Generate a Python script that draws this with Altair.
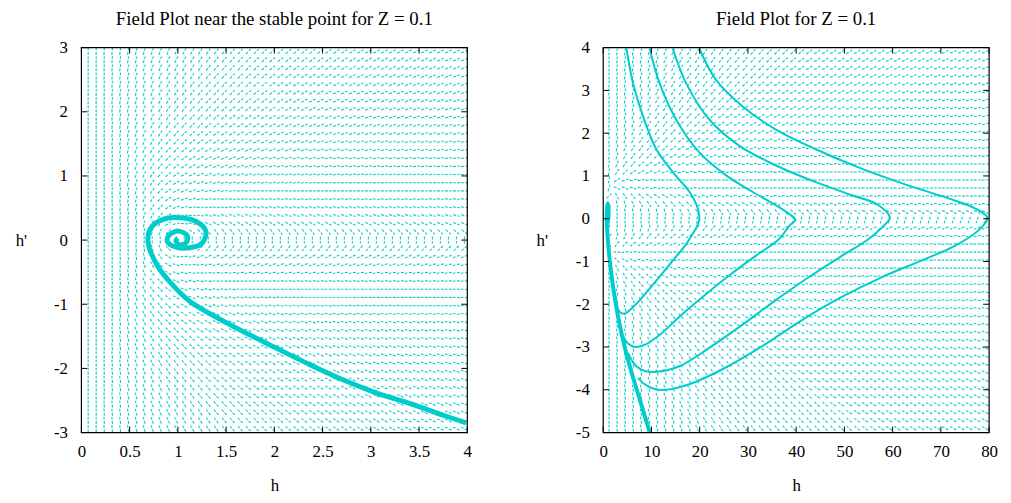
import numpy as np
import pandas as pd
import altair as alt

# ---------------- text ----------------
TITLE_LEFT = "Field Plot near the stable point for Z = 0.1"
TITLE_RIGHT = "Field Plot for Z = 0.1"
X_TITLE = "h"
Y_TITLE = "h'"

# ---------------- axes ----------------
left_h_domain = [0, 4]
left_v_domain = [-3, 3]
right_h_domain = [0, 80]
right_v_domain = [-5, 4]
left_x_ticks = [0, 0.5, 1, 1.5, 2, 2.5, 3, 3.5, 4]
left_y_ticks = [-3, -2, -1, 0, 1, 2, 3]
right_x_ticks = [0, 10, 20, 30, 40, 50, 60, 70, 80]
right_y_ticks = [-5, -4, -3, -2, -1, 0, 1, 2, 3, 4]

# ---------------- direction field (slope model) ----------------
Z = 0.1
FIELD_C = 0.7          # |h'| where the field turns horizontal at large h
left_grid_h = np.linspace(0.07, 3.97, 48)
left_grid_v = np.linspace(-2.94, 2.94, 47)
right_grid_h = np.linspace(1.2, 79.2, 48)
right_grid_v = np.linspace(-4.9, 3.9, 48)

# ---------------- trajectories ----------------
left_thick_h = [3.99, 3.75, 3.41, 3.07, 2.73, 2.38, 2.04, 1.53, 1.12, 0.91, 0.78, 0.69, 0.72,
                0.84, 1.01, 1.19, 1.29, 1.25, 1.12, 0.98, 0.89, 0.91, 1.01, 1.10, 1.08, 1.01, 0.98, 1.0]
left_thick_v = [-2.85, -2.73, -2.55, -2.39, -2.19, -1.95, -1.70, -1.31, -0.95, -0.64, -0.38, -0.02, 0.19,
                0.32, 0.35, 0.29, 0.14, -0.05, -0.12, -0.11, -0.02, 0.08, 0.14, 0.06, -0.05, -0.07, -0.01, 0.03]

right_thick_h = [9.62, 7.56, 5.50, 3.79, 2.48, 1.52, 0.90, 0.72, 0.76, 0.90, 1.05, 1.12, 1.00, 0.90, 0.95, 1.02]
right_thick_v = [-4.99, -4.22, -3.45, -2.68, -1.91, -1.14, -0.40, 0.00, 0.22, 0.35, 0.30, 0.10, -0.08, 0.00, 0.12, 0.05]

curve1_h = [4.81, 6.18, 8.24, 10.99, 14.42, 17.86, 19.57, 19.92, 19.23, 17.17, 14.42, 10.99, 7.55, 5.49, 4.46, 3.43, 2.61]
curve1_v = [3.98, 3.17, 2.40, 1.63, 1.09, 0.63, 0.25, -0.02, -0.22, -0.60, -0.98, -1.45, -1.91, -2.14, -2.22, -2.18, -1.98]

curve2_h = [9.62, 11.68, 15.11, 19.92, 25.41, 30.91, 35.71, 38.80, 39.84, 38.80, 36.40, 31.59, 26.10,
            20.60, 15.80, 11.68, 8.59, 6.52, 5.15, 4.12]
curve2_v = [3.98, 3.17, 2.32, 1.55, 1.02, 0.63, 0.32, 0.09, -0.03, -0.14, -0.48, -0.87, -1.33,
            -1.83, -2.29, -2.72, -2.95, -3.00, -2.92, -2.75]

curve3_h = [14.42, 17.17, 21.98, 28.16, 35.71, 43.96, 51.51, 57.01, 59.41, 58.38, 54.95, 49.45, 42.58,
            35.71, 28.85, 21.98, 15.80, 10.99, 8.59, 6.87, 5.84, 5.15]
curve3_v = [3.98, 3.17, 2.32, 1.71, 1.25, 0.86, 0.55, 0.32, 0.02, -0.14, -0.48, -0.87, -1.37,
            -1.91, -2.48, -3.02, -3.45, -3.58, -3.56, -3.45, -3.29, -3.14]

curve4_h = [19.92, 23.35, 28.85, 35.71, 43.96, 53.57, 63.19, 71.43, 76.92, 79.67, 77.61, 72.80, 65.93,
            57.69, 49.45, 41.21, 32.97, 24.73, 17.86, 13.05, 10.65, 8.59, 7.21]
curve4_v = [3.98, 3.25, 2.63, 2.09, 1.63, 1.17, 0.78, 0.48, 0.25, 0.02, -0.29, -0.64, -0.98,
            -1.37, -1.83, -2.37, -2.98, -3.52, -3.87, -4.00, -3.98, -3.87, -3.72]

# ---------------- style ----------------
CYAN = "#00CCCC"
FONT = "Liberation Serif"
PW, PH = 389, 388
SEG_LEN = 7.0
LABEL_SIZE = 17
TITLE_SIZE = 19


def field_frame(hs, vs, hdom, vdom):
    sx = PW / (hdom[1] - hdom[0])
    sy = PH / (vdom[1] - vdom[0])
    HH, VV = np.meshgrid(np.asarray(hs), np.asarray(vs))
    F = (VV ** 2 - FIELD_C * (1.0 - 1.0 / HH ** 2)) / HH
    ang = np.arctan2(F * sy, VV * sx)
    dh = 0.5 * SEG_LEN * np.cos(ang) / sx
    dv = 0.5 * SEG_LEN * np.sin(ang) / sy
    return pd.DataFrame({
        "h1": (HH - dh).ravel(), "h2": (HH + dh).ravel(),
        "v1": (VV - dv).ravel(), "v2": (VV + dv).ravel(),
    })


def traj_frame(pairs):
    rows = []
    for name, hs, vs in pairs:
        for i, (a, b) in enumerate(zip(hs, vs)):
            rows.append({"curve": name, "idx": i, "h": a, "v": b})
    return pd.DataFrame(rows)


def panel(title, hdom, vdom, xt, yt, field_df, thick_df, thin_df, thick_w, ytitle_x):
    xs = alt.Scale(domain=hdom, nice=False, zero=False)
    ys = alt.Scale(domain=vdom, nice=False, zero=False)
    common = dict(ticks=False, domain=False, grid=False, labelExpr="datum.value + ''",
                  labelFlush=False, labelFont=FONT, labelFontSize=LABEL_SIZE,
                  labelColor="black", titleFont=FONT, titleFontSize=LABEL_SIZE,
                  titleFontWeight="normal", titleColor="black")
    xaxis = alt.Axis(values=xt, title=X_TITLE, labelPadding=11, titlePadding=18, **common)
    yaxis = alt.Axis(values=yt, title=Y_TITLE, labelPadding=14, titleAngle=0,
                     titleX=ytitle_x, titleY=PH / 2, titleAlign="center",
                     titleBaseline="middle", **common)

    def X(f):
        return alt.X(f, scale=xs, axis=xaxis, title=X_TITLE)

    def Y(f):
        return alt.Y(f, scale=ys, axis=yaxis, title=Y_TITLE)

    field = alt.Chart(field_df).mark_rule(
        clip=True, color=CYAN, strokeWidth=1.1, strokeDash=[3, 1.5]
    ).encode(x=X("h1:Q"), y=Y("v1:Q"), x2="h2:Q", y2="v2:Q")
    layers = [field]
    if thin_df is not None:
        layers.append(alt.Chart(thin_df).mark_line(
            clip=True, color=CYAN, strokeWidth=2, interpolate="catmull-rom"
        ).encode(x=X("h:Q"), y=Y("v:Q"), detail="curve:N", order="idx:Q"))
    layers.append(alt.Chart(thick_df).mark_line(
        clip=True, color=CYAN, strokeWidth=thick_w, interpolate="catmull-rom"
    ).encode(x=X("h:Q"), y=Y("v:Q"), detail="curve:N", order="idx:Q"))

    xtdf = pd.DataFrame({"t": xt})
    ytdf = pd.DataFrame({"t": yt})
    tick = dict(color="black", strokeWidth=1)
    layers += [
        alt.Chart(xtdf).mark_rule(**tick).encode(
            x=X("t:Q"), y=alt.value(PH), y2=alt.value(PH - 6)),
        alt.Chart(xtdf).mark_rule(**tick).encode(
            x=X("t:Q"), y=alt.value(0), y2=alt.value(6)),
        alt.Chart(ytdf).mark_rule(**tick).encode(
            y=Y("t:Q"), x=alt.value(0), x2=alt.value(6)),
        alt.Chart(ytdf).mark_rule(**tick).encode(
            y=Y("t:Q"), x=alt.value(PW), x2=alt.value(PW - 6)),
        alt.Chart(pd.DataFrame({"k": [0]})).mark_rect(
            fill=None, filled=False, stroke="black", strokeWidth=1.2
        ).encode(x=alt.value(0), x2=alt.value(PW), y=alt.value(0), y2=alt.value(PH)),
    ]
    return alt.layer(*layers).properties(
        width=PW, height=PH,
        title=alt.TitleParams(title, font=FONT, fontSize=TITLE_SIZE, fontWeight="normal",
                              anchor="middle", offset=10, color="black"),
    )


left_field = field_frame(left_grid_h, left_grid_v, left_h_domain, left_v_domain)
right_field = field_frame(right_grid_h, right_grid_v, right_h_domain, right_v_domain)
left_thick = traj_frame([("s", left_thick_h, left_thick_v)])
right_thick = traj_frame([("s", right_thick_h, right_thick_v)])
right_thin = traj_frame([("c1", curve1_h, curve1_v), ("c2", curve2_h, curve2_v),
                         ("c3", curve3_h, curve3_v), ("c4", curve4_h, curve4_v)])

left = panel(TITLE_LEFT, left_h_domain, left_v_domain, left_x_ticks, left_y_ticks,
             left_field, left_thick, None, 5, -61)
right = panel(TITLE_RIGHT, right_h_domain, right_v_domain, right_x_ticks, right_y_ticks,
              right_field, right_thick, right_thin, 4, -62)

chart = alt.hconcat(left, right, spacing=64).properties(
    padding={"left": 7, "top": 0, "right": 5, "bottom": 0},
    background="white",
).configure_view(
    stroke=None
)

chart.save("out.html", embed_options={"renderer": "svg", "actions": False})
